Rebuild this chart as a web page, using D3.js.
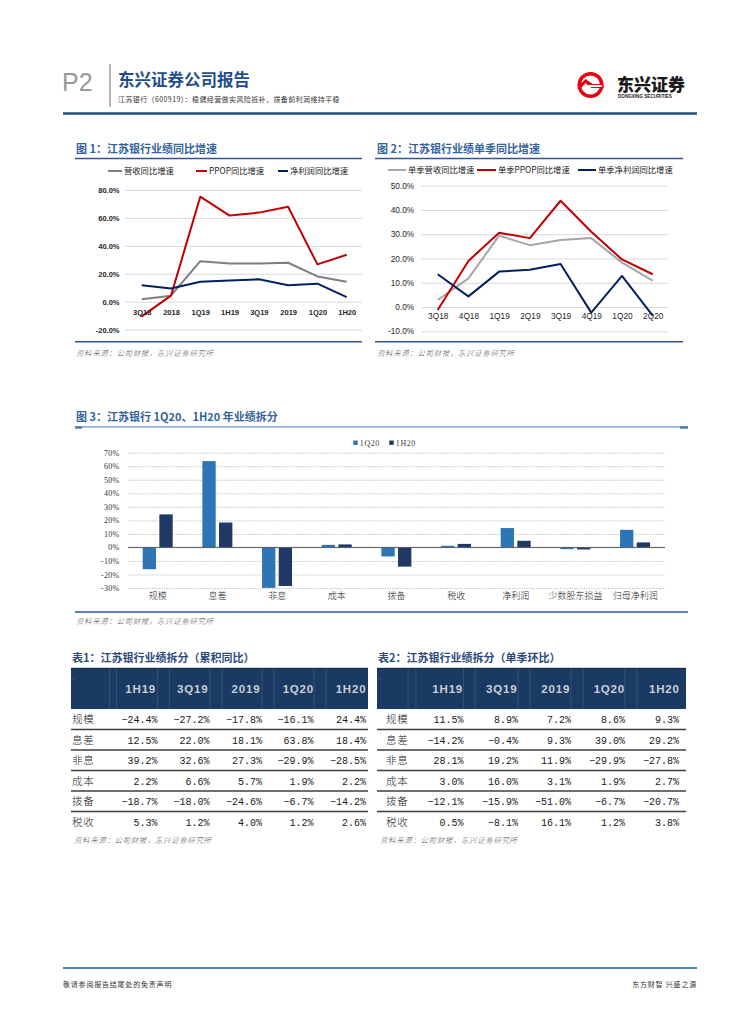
<!DOCTYPE html>
<html>
<head>
<meta charset="utf-8">
<script src="https://cdn.jsdelivr.net/npm/d3@7"></script>
<style>
  body { margin: 0; background: #fff; }
  svg text { font-family: "Noto Sans CJK SC", "Liberation Sans", sans-serif; }
</style>
</head>
<body>
<div id="page"></div>
<script>
// ---- data ----
const cats1 = ['3Q18', '2018', '1Q19', '1H19', '3Q19', '2019', '1Q20', '1H20'];
const rev1 = [1.7, 4.3, 29.0, 27.4, 27.4, 27.9, 18.1, 14.3];
const ppop1 = [-10.5, 4.3, 75.2, 61.7, 63.8, 68.0, 26.7, 33.6];
const np1 = [11.7, 9.5, 14.3, 15.2, 16.0, 11.7, 12.9, 3.3];
const ticks1 = [-20, 0, 20, 40, 60, 80];

const cats2 = ['3Q18', '4Q18', '1Q19', '2Q19', '3Q19', '4Q19', '1Q20', '2Q20'];
const rev2 = [2.9, 11.8, 29.4, 25.5, 27.6, 28.4, 18.3, 10.9];
const ppop2 = [-1.2, 19.0, 30.6, 28.4, 43.8, 31.0, 19.6, 13.5];
const np2 = [13.5, 4.4, 14.6, 15.4, 17.7, -2.3, 12.8, -3.5];
const ticks2 = [-10, 0, 10, 20, 30, 40, 50];

const cats3 = ['规模', '息差', '非息', '成本', '拨备', '税收', '净利润', '少数股东损益', '归母净利润'];
const series3 = ['1Q20', '1H20'];
const q1_20 = [-16.1, 63.8, -29.9, 1.9, -6.7, 1.2, 14.3, -1.3, 13.0];
const h1_20 = [24.4, 18.4, -28.5, 2.2, -14.2, 2.6, 4.9, -1.5, 3.7];
const ticks3 = [-30, -20, -10, 0, 10, 20, 30, 40, 50, 60, 70];

const tblCols = ['1H19', '3Q19', '2019', '1Q20', '1H20'];
const tblRows = ['规模', '息差', '非息', '成本', '拨备', '税收'];
const cumYoy = [
  ['-24.4%', '-27.2%', '-17.8%', '-16.1%', '24.4%'],
  ['12.5%', '22.0%', '18.1%', '63.8%', '18.4%'],
  ['39.2%', '32.6%', '27.3%', '-29.9%', '-28.5%'],
  ['2.2%', '6.6%', '5.7%', '1.9%', '2.2%'],
  ['-18.7%', '-18.0%', '-24.6%', '-6.7%', '-14.2%'],
  ['5.3%', '1.2%', '4.0%', '1.2%', '2.6%']
];
const qoq = [
  ['11.5%', '8.9%', '7.2%', '8.6%', '9.3%'],
  ['-14.2%', '-0.4%', '9.3%', '39.0%', '29.2%'],
  ['28.1%', '19.2%', '11.9%', '-29.9%', '-27.8%'],
  ['3.0%', '16.0%', '3.1%', '1.9%', '2.7%'],
  ['-12.1%', '-15.9%', '-51.0%', '-6.7%', '-20.7%'],
  ['0.5%', '-8.1%', '16.1%', '1.2%', '3.8%']
];

const blueTitle = '#34639a';
const navyHead = '#1b3a63';

const svg = d3.select('#page').append('svg')
  .attr('width', 755)
  .attr('height', 1024);

// ---- page header ----
svg.append('text').attr('x', 62).attr('y', 91)
  .attr('font-size', 25).attr('fill', '#999')
  .style('font-family', 'Liberation Sans')
  .text('P2');
svg.append('line').attr('x1', 110).attr('x2', 110).attr('y1', 64).attr('y2', 107)
  .attr('stroke', '#9a9a9a').attr('stroke-width', 1.5);
svg.append('text').attr('x', 118).attr('y', 86)
  .attr('font-size', 16.5).attr('font-weight', 'bold').attr('fill', '#1f4e8c')
  .text('东兴证券公司报告');
svg.append('text').attr('x', 118).attr('y', 102)
  .attr('font-size', 7).attr('fill', '#333').attr('letter-spacing', 0.4)
  .text('江苏银行（600919）：稳健经营做实风险抵补，拨备前利润维持平稳');

// logo
const logo = svg.append('g').attr('transform', 'translate(590.5,85)');
logo.append('circle').attr('r', 13).attr('fill', '#e60012');
logo.append('circle').attr('r', 9.5).attr('fill', '#fff');
logo.append('path').attr('d', 'M-13,2 L-5,-6 L2,-1 L13,-1 L13,3 L1,3 L-5,-2 L-11,5 Z').attr('fill', '#e60012');
logo.append('path').attr('d', 'M-6,4 L-1,0 L12,0 L11,2 L0,2 L-4,6 Z').attr('fill', '#fff');
svg.append('text').attr('x', 617).attr('y', 91)
  .attr('font-size', 17).attr('font-weight', 900).attr('fill', '#1a1a1a')
  .text('东兴证券');
svg.append('text').attr('x', 618).attr('y', 98)
  .attr('font-size', 4.6).attr('font-weight', 'bold').attr('fill', '#1a1a1a')
  .style('font-family', 'Liberation Sans')
  .text('DONGXING SECURITIES');
svg.append('line').attr('x1', 63).attr('x2', 697).attr('y1', 113.5).attr('y2', 113.5)
  .attr('stroke', '#1f4e79').attr('stroke-width', 2.5);

// ---- helpers ----
function sectionTitle(x, y, text) {
  svg.append('text').attr('x', x).attr('y', y)
    .attr('font-size', 11).attr('font-weight', 'bold').attr('fill', blueTitle)
    .text(text);
}
function hRule(x1, x2, y, color, w) {
  svg.append('line').attr('x1', x1).attr('x2', x2).attr('y1', y).attr('y2', y)
    .attr('stroke', color).attr('stroke-width', w);
}
function sourceNote(x, y) {
  svg.append('text').attr('x', x).attr('y', y)
    .attr('font-size', 7.5).attr('font-style', 'italic').attr('fill', '#595959')
    .attr('font-weight', 300).attr('letter-spacing', 0.6)
    .text('资料来源：公司财报，东兴证券研究所');
}

function lineChart(opt) {
  const x = d3.scalePoint().domain(opt.cats).range(opt.xr);
  const y = d3.scaleLinear().domain(opt.yd).range(opt.yr);
  const g = svg.append('g');

  // grid + y labels
  const ya = g.append('g')
    .attr('transform', 'translate(' + opt.gx[0] + ',0)')
    .call(d3.axisLeft(y).tickValues(opt.ticks)
      .tickSize(-(opt.gx[1] - opt.gx[0])).tickPadding(opt.yPad)
      .tickFormat(d => d.toFixed(1) + '%'));
  ya.select('.domain').remove();
  ya.selectAll('line').attr('stroke', '#d9d9d9').attr('stroke-width', 1);
  ya.selectAll('text').attr('font-size', opt.tickFont).attr('fill', '#262626')
    .attr('font-weight', opt.tickWeight).style('font-family', 'Liberation Sans');

  // series lines
  opt.series.forEach(s => {
    g.append('path')
      .datum(s.values)
      .attr('fill', 'none')
      .attr('stroke', s.color)
      .attr('stroke-width', 2)
      .attr('stroke-linejoin', 'round')
      .attr('d', d3.line().x((d, i) => x(opt.cats[i])).y(d => y(d)));
  });

  // x labels
  const xa = g.append('g')
    .attr('transform', 'translate(0,' + y(0) + ')')
    .call(d3.axisBottom(x).tickSize(0).tickPadding(opt.xPad));
  xa.select('.domain').remove();
  xa.selectAll('text').attr('font-size', opt.tickFont).attr('fill', '#262626')
    .attr('font-weight', opt.tickWeight).style('font-family', 'Liberation Sans');

  // legend
  opt.series.forEach(s => {
    g.append('line').attr('x1', s.lx[0]).attr('x2', s.lx[1])
      .attr('y1', opt.ly).attr('y2', opt.ly)
      .attr('stroke', s.color).attr('stroke-width', 2);
    g.append('text').attr('x', s.lx[1] + 2).attr('y', opt.ly + 3)
      .attr('font-size', opt.legFont).attr('fill', '#1a1a1a')
      .text(s.name);
  });
}

// ---- 图1 ----
sectionTitle(76, 153, '图 1：江苏银行业绩同比增速');
hRule(75, 362, 158.5, '#2f5597', 1.5);
lineChart({
  cats: cats1, xr: [141.7, 346.7], yd: [-20, 80], yr: [329.6, 190],
  gx: [125, 362], ticks: ticks1, yPad: 5.5, xPad: 8, tickFont: 7.5, tickWeight: 'bold',
  legFont: 8.3, ly: 171,
  series: [
    { name: '营收同比增速', values: rev1, color: '#7f7f7f', lx: [108, 122] },
    { name: 'PPOP同比增速', values: ppop1, color: '#c00000', lx: [196, 207] },
    { name: '净利润同比增速', values: np1, color: '#002060', lx: [278, 288] }
  ]
});
hRule(75, 362, 341.7, '#2f5597', 1.5);
sourceNote(76, 356);

// ---- 图2 ----
sectionTitle(377, 153, '图 2：江苏银行业绩单季同比增速');
hRule(375, 683, 158.5, '#2f5597', 1.5);
lineChart({
  cats: cats2, xr: [437.7, 652.7], yd: [-10, 50], yr: [331.3, 185.7],
  gx: [421.7, 668], ticks: ticks2, yPad: 7.5, xPad: 6.5, tickFont: 8.3, tickWeight: 'normal',
  legFont: 8.3, ly: 170,
  series: [
    { name: '单季营收同比增速', values: rev2, color: '#a6a6a6', lx: [388, 406] },
    { name: '单季PPOP同比增速', values: ppop2, color: '#c00000', lx: [477, 496] },
    { name: '单季净利润同比增速', values: np2, color: '#002060', lx: [578, 596] }
  ]
});
hRule(375, 683, 341.7, '#2f5597', 1.5);
sourceNote(377, 356);

// ---- 图3 ----
sectionTitle(76, 421, '图 3：江苏银行 1Q20、1H20 年业绩拆分');
hRule(75, 688, 426.8, '#6c94bd', 1.2);
hRule(75, 82, 427.5, '#4f7fb0', 2.5);
hRule(680, 688, 427.5, '#4f7fb0', 2.5);
{
  const x0 = d3.scaleBand().domain(cats3).range([128, 665]);
  const x1 = d3.scaleBand().domain(series3).range([14.7, 44.7]).paddingInner(0.2);
  const y = d3.scaleLinear().domain([-30, 70]).range([588, 452.7]);
  const colors = d3.scaleOrdinal().domain(series3).range(['#2e75b6', '#1f3864']);
  const g = svg.append('g');

  const ya = g.append('g').attr('transform', 'translate(128,0)')
    .call(d3.axisLeft(y).tickValues(ticks3).tickSize(-537).tickPadding(8.5)
      .tickFormat(d => d + '%'));
  ya.select('.domain').remove();
  ya.selectAll('line').attr('stroke', '#bfbfbf').attr('stroke-dasharray', '1.2,1.2');
  ya.selectAll('text').attr('font-size', 8).attr('fill', '#333')
    .attr('letter-spacing', 0.3).style('font-family', 'Liberation Serif');

  const rows = cats3.map((c, i) => ({ cat: c, vals: [q1_20[i], h1_20[i]] }));
  g.selectAll('.grp').data(rows).enter().append('g')
    .attr('transform', d => 'translate(' + x0(d.cat) + ',0)')
    .selectAll('rect')
    .data(d => d.vals.map((v, j) => ({ key: series3[j], v: v })))
    .enter().append('rect')
    .attr('x', d => x1(d.key))
    .attr('width', x1.bandwidth())
    .attr('y', d => y(Math.max(0, d.v)))
    .attr('height', d => Math.abs(y(d.v) - y(0)))
    .attr('fill', d => colors(d.key));

  g.append('line').attr('x1', 128).attr('x2', 665).attr('y1', y(0)).attr('y2', y(0))
    .attr('stroke', '#595959').attr('stroke-width', 1);

  const xa = g.append('g').attr('transform', 'translate(0,588)')
    .call(d3.axisBottom(x0).tickSize(0).tickPadding(5));
  xa.select('.domain').remove();
  xa.selectAll('text').attr('font-size', 9).attr('fill', '#262626').attr('font-weight', 300);

  // legend
  const leg = [{ k: '1Q20', x: 353.3 }, { k: '1H20', x: 389.3 }];
  leg.forEach(l => {
    g.append('rect').attr('x', l.x).attr('y', 440.5).attr('width', 4.4).attr('height', 4.4)
      .attr('fill', colors(l.k));
    g.append('text').attr('x', l.x + 6.5).attr('y', 445.8)
      .attr('font-size', 8).attr('fill', '#404040').attr('letter-spacing', 0.6)
      .style('font-family', 'Liberation Serif').text(l.k);
  });
}
hRule(75, 688, 612, '#2f5597', 1.5);
sourceNote(76, 624);

// ---- tables ----
function table(opt) {
  const g = svg.append('g');
  g.append('text').attr('x', opt.x0 + 1).attr('y', 662)
    .attr('font-size', 11).attr('font-weight', 'bold').attr('fill', '#2e4a7a')
    .text(opt.title);
  g.append('rect').attr('x', opt.x0).attr('y', 668).attr('width', opt.x1 - opt.x0).attr('height', 41)
    .attr('fill', navyHead);
  hRule(opt.x0, opt.x1, 668.3, '#0f1f36', 0.8);
  // faint cell separators in header
  opt.sep.forEach(sx => {
    g.append('line').attr('x1', sx).attr('x2', sx).attr('y1', 668).attr('y2', 709)
      .attr('stroke', '#3a5a84').attr('stroke-width', 0.7);
  });
  g.append('line').attr('x1', opt.x0).attr('x2', opt.x0 + 4).attr('y1', 679).attr('y2', 679)
    .attr('stroke', '#3a5a84').attr('stroke-width', 0.7);

  tblCols.forEach((c, j) => {
    g.append('text').attr('x', opt.hx[j]).attr('y', 693)
      .attr('text-anchor', 'middle').attr('font-size', 11.5).attr('font-weight', 'bold')
      .attr('letter-spacing', 0.8).attr('fill', '#c9ced7')
      .style('font-family', 'Liberation Sans').text(c);
  });

  const rowY = d3.scaleBand().domain(tblRows).range([709, 832]);
  tblRows.forEach((r, i) => {
    const cy = rowY(r) + rowY.bandwidth() / 2;
    if (i > 0) hRule(opt.x0, opt.x1, rowY(r), '#3f3f3f', 1.4);
    g.append('text').attr('x', opt.lx).attr('y', cy + 4)
      .attr('font-size', 10.5).attr('fill', '#1a1a1a').attr('letter-spacing', 0.8)
      .attr('font-weight', 300)
      .text(r);
    opt.data[i].forEach((v, j) => {
      g.append('text').attr('x', opt.vx[j]).attr('y', cy + 3.8)
        .attr('text-anchor', 'end').attr('font-size', 10).attr('fill', '#1a1a1a')
        .style('font-family', 'Liberation Mono')
        .text(v.replace('-', '−'));
    });
  });
  sourceNote(opt.x0 + 3, 843);
}

table({
  title: '表1：江苏银行业绩拆分（累积同比）', data: cumYoy,
  x0: 71, x1: 368, lx: 72,
  hx: [140.7, 192.7, 246, 298.3, 351],
  vx: [157.5, 209.5, 262, 313.5, 366],
  sep: [109.5, 116.5, 157.5, 169.5, 210, 222, 262, 274, 314, 326]
});
table({
  title: '表2：江苏银行业绩拆分（单季环比）', data: qoq,
  x0: 377, x1: 686, lx: 386,
  hx: [447.7, 501.7, 555.7, 609.3, 664.3],
  vx: [463.5, 518, 571, 625, 679],
  sep: [408, 416, 463.5, 475, 518, 530, 571, 583, 625, 637]
});

// ---- footer ----
hRule(63, 697, 968, '#4f81bd', 2);
svg.append('text').attr('x', 63).attr('y', 987)
  .attr('font-size', 7).attr('fill', '#333').attr('letter-spacing', 0.8)
  .text('敬请参阅报告结尾处的免责声明');
svg.append('text').attr('x', 697).attr('y', 987).attr('text-anchor', 'end')
  .attr('font-size', 7).attr('fill', '#333').attr('letter-spacing', 0.8)
  .text('东方财智 兴盛之源');
</script>
</body>
</html>
